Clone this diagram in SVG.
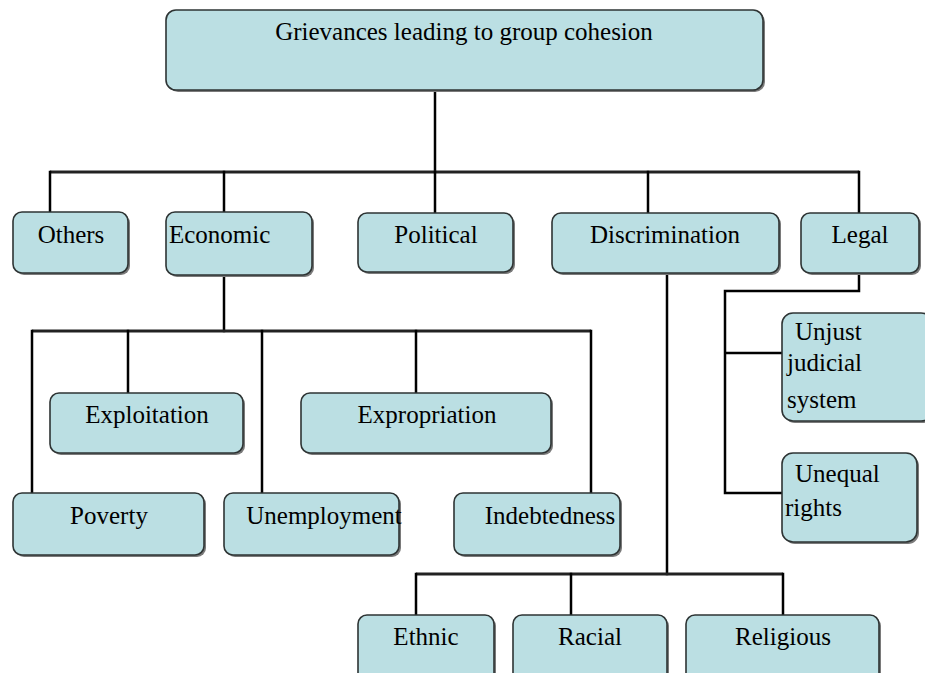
<svg xmlns="http://www.w3.org/2000/svg" width="925" height="673" viewBox="0 0 925 673">
<defs>
<style>
.sh{fill:#7a7a7a;}
.bx{fill:#bbdfe3;stroke:#2e3434;stroke-width:1.6;}
.t{font-family:"Liberation Serif","Times New Roman",serif;font-size:25px;fill:#000;}
.c{text-anchor:middle;}
.ln{stroke:#000;stroke-width:2.5;fill:none;stroke-linecap:square;}
.hl{stroke:#222;stroke-width:3;fill:none;}
</style>
</defs>
<rect width="925" height="673" fill="#fff"/>
<g id="connectors">
<path class="ln" d="M435 90V172"/>
<path class="hl" d="M50 172H859"/>
<path class="ln" d="M50 172V212M224 172V212M435 172V212M648 172V212M859 172V212"/>
<path class="ln" d="M224 275V331"/>
<path class="hl" d="M32 331H591"/>
<path class="ln" d="M32 331V493M128 331V393M262 331V493M416 331V393M591 331V493"/>
<path class="ln" d="M667 273V574"/>
<path class="hl" d="M416 574H783"/>
<path class="ln" d="M416 574V615M571 574V615M783 574V615"/>
<path class="ln" d="M859 273V291H725V493H782M725 353H782"/>
</g>
<g id="n-root"><rect class="sh" x="168" y="12" width="597" height="80" rx="10"/><rect class="bx" x="166" y="10" width="597" height="80" rx="10"/><text class="t c" x="464" y="40">Grievances leading to group cohesion</text></g>
<g id="n-others"><rect class="sh" x="15" y="214" width="115" height="61" rx="9"/><rect class="bx" x="13" y="212" width="115" height="61" rx="9"/><text class="t c" x="71" y="243">Others</text></g>
<g id="n-economic"><rect class="sh" x="168" y="214" width="146" height="63" rx="9"/><rect class="bx" x="166" y="212" width="146" height="63" rx="9"/><text class="t" x="169" y="243">Economic</text></g>
<g id="n-political"><rect class="sh" x="360" y="215" width="155" height="59" rx="9"/><rect class="bx" x="358" y="213" width="155" height="59" rx="9"/><text class="t c" x="436" y="243">Political</text></g>
<g id="n-discrimination"><rect class="sh" x="554" y="215" width="227" height="60" rx="9"/><rect class="bx" x="552" y="213" width="227" height="60" rx="9"/><text class="t c" x="665" y="243">Discrimination</text></g>
<g id="n-legal"><rect class="sh" x="803" y="215" width="118" height="60" rx="9"/><rect class="bx" x="801" y="213" width="118" height="60" rx="9"/><text class="t c" x="860" y="243">Legal</text></g>
<g id="n-exploitation"><rect class="sh" x="52" y="395" width="193" height="60" rx="9"/><rect class="bx" x="50" y="393" width="193" height="60" rx="9"/><text class="t c" x="147" y="423">Exploitation</text></g>
<g id="n-expropriation"><rect class="sh" x="303" y="395" width="250" height="60" rx="9"/><rect class="bx" x="301" y="393" width="250" height="60" rx="9"/><text class="t c" x="427" y="423">Expropriation</text></g>
<g id="n-poverty"><rect class="sh" x="15" y="495" width="191" height="62" rx="9"/><rect class="bx" x="13" y="493" width="191" height="62" rx="9"/><text class="t c" x="109" y="524">Poverty</text></g>
<g id="n-unemployment"><rect class="sh" x="226" y="495" width="175" height="62" rx="9"/><rect class="bx" x="224" y="493" width="175" height="62" rx="9"/><text class="t c" x="324" y="524">Unemployment</text></g>
<g id="n-indebtedness"><rect class="sh" x="456" y="495" width="166" height="62" rx="9"/><rect class="bx" x="454" y="493" width="166" height="62" rx="9"/><text class="t c" x="550" y="524">Indebtedness</text></g>
<g id="n-unjust"><rect class="sh" x="784" y="315" width="150" height="108" rx="11"/><rect class="bx" x="782" y="313" width="150" height="108" rx="11"/><text class="t" x="795" y="340">Unjust</text><text class="t" x="787" y="371">judicial</text><text class="t" x="787" y="408">system</text></g>
<g id="n-unequal"><rect class="sh" x="784" y="455" width="135" height="89" rx="11"/><rect class="bx" x="782" y="453" width="135" height="89" rx="11"/><text class="t" x="795" y="482">Unequal</text><text class="t" x="785" y="516">rights</text></g>
<g id="n-ethnic"><rect class="sh" x="360" y="617" width="136" height="70" rx="9"/><rect class="bx" x="358" y="615" width="136" height="70" rx="9"/><text class="t c" x="426" y="645">Ethnic</text></g>
<g id="n-racial"><rect class="sh" x="515" y="617" width="154" height="70" rx="9"/><rect class="bx" x="513" y="615" width="154" height="70" rx="9"/><text class="t c" x="590" y="645">Racial</text></g>
<g id="n-religious"><rect class="sh" x="688" y="617" width="193" height="70" rx="9"/><rect class="bx" x="686" y="615" width="193" height="70" rx="9"/><text class="t c" x="783" y="645">Religious</text></g>
</svg>
